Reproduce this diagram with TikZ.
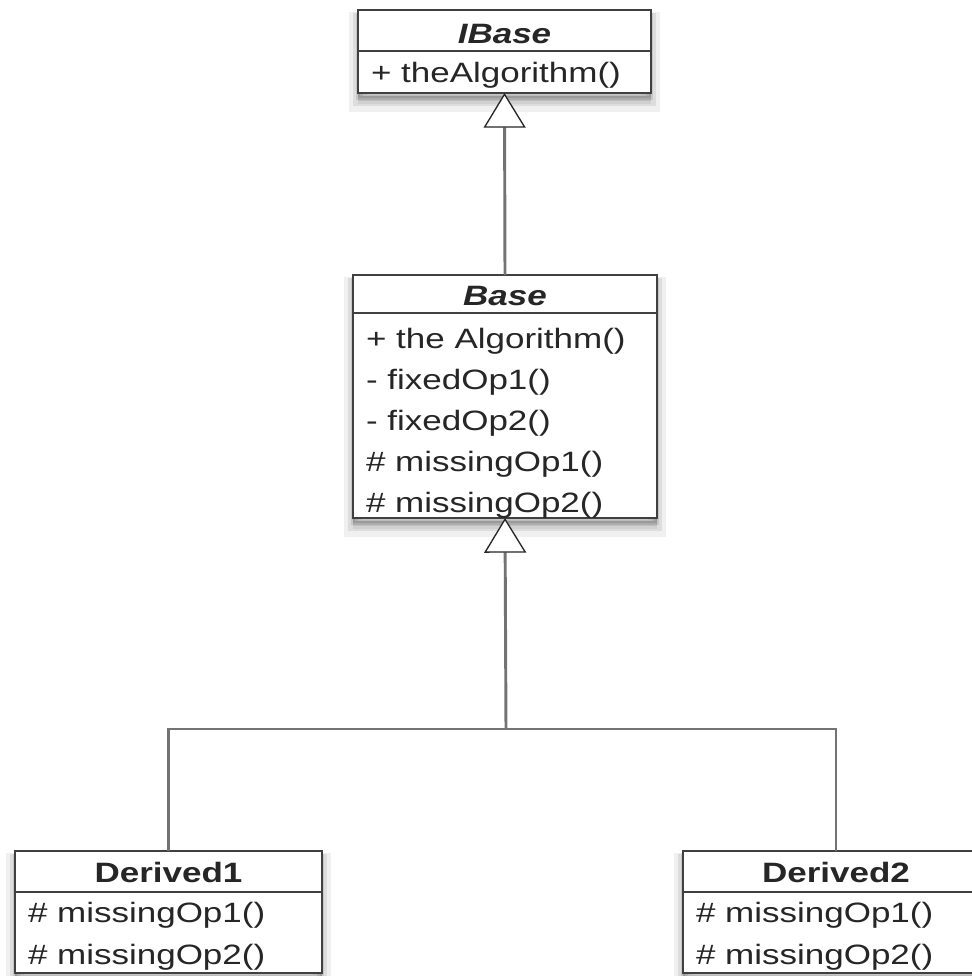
\documentclass[tikz,border=0pt]{standalone}
\usepackage{fontspec}
\setmainfont{Liberation Sans}[FakeStretch=1.25]
\usetikzlibrary{arrows.meta}

\begin{document}
\begin{tikzpicture}[x=0.75pt,y=-0.75pt,
  every node/.style={inner sep=0pt, outer sep=0pt, text=black!85},
  softshadow/.style={
    preaction={fill=black, fill opacity=.06, draw=black, draw opacity=.06,
      line width=13pt, transform canvas={yshift=-8pt}},
    preaction={fill=black, fill opacity=.08, draw=black, draw opacity=.08,
      line width=8pt, transform canvas={yshift=-6pt}},
    preaction={fill=black, fill opacity=.1, draw=black, draw opacity=.1,
      line width=3pt, transform canvas={yshift=-4pt}}},
  classbox/.style={rectangle, draw=black!75, line width=1.5pt, fill=white, softshadow},
  divider/.style={draw=black!75, line width=1.5pt},
  title/.style={anchor=base, font=\fontsize{21pt}{25pt}\selectfont\bfseries},
  abstract/.style={title, font=\fontsize{21pt}{25pt}\selectfont\bfseries\itshape},
  member/.style={anchor=base west, font=\fontsize{21pt}{25pt}\selectfont},
  link/.style={draw=black!55, line width=2.2pt},
  generalize/.style={link, -{Triangle[length=26pt, width=31.5pt, fill=white, color=black!85, line width=1pt]}}
]
\useasboundingbox (0,0) rectangle (972,976);

% class boxes
\node[classbox, minimum width=219.75pt, minimum height=62.25pt] (ibase) at (504.5,51.5) {};
\node[classbox, minimum width=228pt, minimum height=182.25pt] (base) at (505,396.5) {};
\node[classbox, minimum width=230.25pt, minimum height=91.5pt] (d1) at (168.5,912) {};
\node[classbox, minimum width=229.5pt, minimum height=91.5pt] (d2) at (836,912) {};

% compartment dividers
\draw[divider] (ibase.west |- 0,51) -- (ibase.east |- 0,51);
\draw[divider] (base.west |- 0,313) -- (base.east |- 0,313);
\draw[divider] (d1.west |- 0,892) -- (d1.east |- 0,892);
\draw[divider] (d2.west |- 0,892) -- (d2.east |- 0,892);

% IBase
\node[abstract] (ibaseT) at (504.5,43) {IBase};
\node[member] (ibaseM1) at (371,82) {+ theAlgorithm()};

% Base
\node[abstract] (baseT) at (505,305) {Base};
\node[member] (baseM1) at (366,348) {+ the Algorithm()};
\node[member] (baseM2) at (366,389) {- fixedOp1()};
\node[member] (baseM3) at (366,430) {- fixedOp2()};
\node[member] (baseM4) at (366,471) {\# missingOp1()};
\node[member] (baseM5) at (366,512) {\# missingOp2()};

% Derived1
\node[title] (d1T) at (168.5,882) {Derived1};
\node[member] (d1M1) at (28,922) {\# missingOp1()};
\node[member] (d1M2) at (28,964) {\# missingOp2()};

% Derived2
\node[title] (d2T) at (836,882) {Derived2};
\node[member] (d2M1) at (696,922) {\# missingOp1()};
\node[member] (d2M2) at (696,964) {\# missingOp2()};

% generalization connectors
\coordinate (join) at (506,729);
\draw[generalize] (base.north) -- (ibase.south);
\draw[generalize] (join) -- (base.south);
\draw[link] (d1.north) |- (join) -| (d2.north);
\end{tikzpicture}
\end{document}
